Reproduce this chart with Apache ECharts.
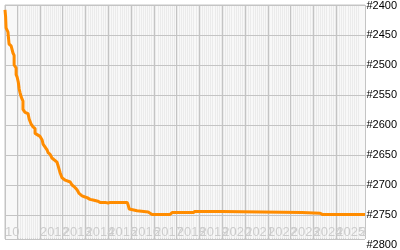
<!DOCTYPE html>
<html>
<head>
<meta charset="utf-8">
<script src="https://cdn.jsdelivr.net/npm/echarts@6/dist/echarts.min.js"></script>
<style>html,body{margin:0;padding:0;background:#fff}#c{width:400px;height:250px}</style>
</head>
<body>
<div id="c"></div>
<script>
const dates = ['2010-06-21','2010-07-01','2010-07-08','2010-07-08','2010-07-23','2010-08-07','2010-08-25','2010-08-25','2010-09-27','2010-10-27','2010-11-14','2010-11-14','2010-12-16','2010-12-16','2011-01-01','2011-01-19','2011-02-03','2011-02-17','2011-03-07','2011-04-05','2011-04-05','2011-05-08','2011-06-25','2011-07-13','2011-08-11','2011-09-13','2011-10-16','2011-10-16','2011-11-18','2012-01-04','2012-02-06','2012-02-21','2012-04-27','2012-05-11','2012-06-13','2012-07-12','2012-07-31','2012-10-01','2012-10-19','2012-11-21','2012-12-20','2013-01-08','2013-02-10','2013-03-11','2013-05-01','2013-05-30','2013-07-16','2013-08-18','2013-09-20','2013-11-06','2013-12-24','2014-01-26','2014-03-14','2014-05-01','2014-07-20','2014-08-22','2014-11-10','2014-12-28','2015-01-30','2015-10-31','2015-11-14','2015-12-02','2016-01-01','2016-04-05','2016-04-23','2016-10-01','2016-10-31','2016-12-02','2017-09-16','2017-10-19','2018-09-20','2018-10-23','2019-12-28','2020-01-15','2023-07-01','2023-07-16','2024-04-16','2024-05-19','2026-04-05'];
const ranks = [2408,2420,2422,2438,2440,2445,2448,2465,2468,2480,2484,2500,2505,2516,2520,2528,2540,2546,2553,2560,2574,2579,2581,2590,2598,2603,2606,2614,2616,2619,2625,2632,2642,2646,2649,2655,2658,2662,2668,2680,2688,2690,2692,2694,2695,2700,2704,2708,2714,2718,2720,2721,2724,2725,2727,2729,2729,2730,2729,2729,2733,2740,2742,2743,2745,2745,2748,2749,2749,2746,2746,2744,2744,2746,2746,2747,2747,2749,2749];
const rankTicks = [2400,2450,2500,2550,2600,2650,2700,2750,2800];
const xMin = '2010-06-21', xMax = '2026-04-05';
const YEAR = 365 * 24 * 3600 * 1000;

const chart = echarts.init(document.getElementById('c'), null, {renderer:'canvas'});
chart.setOption({
  animation: false,
  grid: [
    {left:5, right:35, top:5, bottom:11, show:true, backgroundColor:'#ebebeb', borderColor:'#c4c4c4', borderWidth:1},
    {left:5, right:35, top:5, bottom:5, show:false}
  ],
  xAxis: [
    {type:'time', gridIndex:0, min:xMin, max:xMax, minInterval:YEAR, maxInterval:YEAR, z:1,
     axisLine:{show:false}, axisTick:{show:false},
     axisLabel:{inside:true, align:'left', margin:0, color:'#cccccc', fontFamily:'Liberation Sans', fontSize:13,
       showMinLabel:true, showMaxLabel:false, hideOverlap:false,
       formatter: v => { const y = new Date(v).getFullYear(); if (y <= 2010) return '10'; return y >= 2026 ? '2' : String(y); }},
     splitLine:{show:true, lineStyle:{color:'#c4c4c4', width:1, type:'solid'}},
     minorTick:{show:false, splitNumber:12},
     minorSplitLine:{show:true, lineStyle:{color:'#f8f8f8', width:1, type:'solid'}}},
    {type:'value', gridIndex:1, show:false}
  ],
  yAxis: [
    {type:'value', gridIndex:0, inverse:true, min:2400, max:2790, interval:50, z:3,
     axisLine:{show:false}, axisTick:{show:false}, axisLabel:{show:false},
     splitLine:{show:true, lineStyle:{color:'#c4c4c4', width:1, type:'solid'}}},
    {type:'value', gridIndex:1, position:'right', inverse:true, min:rankTicks[0], max:rankTicks[rankTicks.length-1], interval:50,
     axisLine:{show:false}, axisTick:{show:false}, splitLine:{show:false},
     axisLabel:{margin:3, color:'#000', fontFamily:'Liberation Sans', fontSize:11,
       formatter: v => '#' + v}}
  ],
  series: [{
    type:'line', xAxisIndex:0, yAxisIndex:0, z:5,
    data: dates.map((d,i) => [d, ranks[i]]),
    showSymbol:false, symbol:'none',
    lineStyle:{color:'#ff8c00', width:3},
    clip:true
  }]
});
</script>
</body>
</html>
